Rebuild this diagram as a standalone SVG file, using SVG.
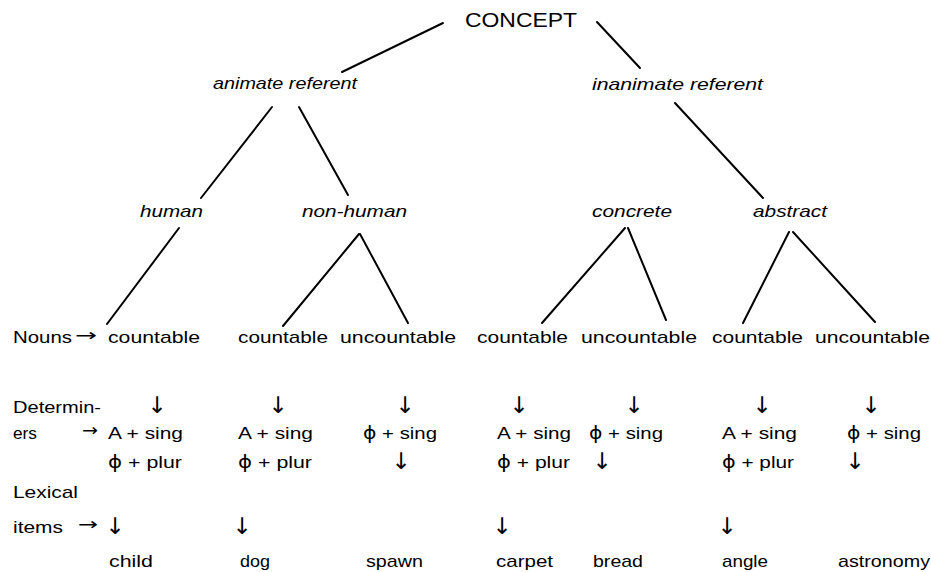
<svg xmlns="http://www.w3.org/2000/svg" width="931" height="572" viewBox="0 0 931 572">
<style>
text{font-family:"Liberation Sans",Arial,sans-serif;font-size:17px;fill:#000}
.it{font-style:italic}
.big{font-size:21px}
.ar{text-anchor:middle;font-family:"DejaVu Sans",sans-serif;font-size:23px}
.sy{font-family:"DejaVu Sans",sans-serif}
.ln line{stroke:#000;stroke-width:2;stroke-linecap:round}
</style>
<rect width="931" height="572" fill="#fff"/>
<g id="connectors" class="ln">
<line x1="443" y1="23" x2="342" y2="72"/>
<line x1="597" y1="22" x2="640" y2="68"/>
<line x1="272" y1="107" x2="201" y2="198"/>
<line x1="299" y1="107" x2="348" y2="195"/>
<line x1="675" y1="103" x2="763" y2="198"/>
<line x1="179" y1="228" x2="107" y2="324"/>
<line x1="359" y1="234" x2="283" y2="326"/>
<line x1="360" y1="234" x2="408" y2="323"/>
<line x1="625" y1="228" x2="542" y2="323"/>
<line x1="628" y1="228" x2="666" y2="320"/>
<line x1="789" y1="232" x2="743" y2="323"/>
<line x1="793" y1="232" x2="875" y2="322"/>
</g>
<g id="concept"><text class="big" x="465" y="27" textLength="112" lengthAdjust="spacingAndGlyphs">CONCEPT</text></g>
<g id="animate"><text class="it" x="213" y="89" textLength="144" lengthAdjust="spacingAndGlyphs">animate referent</text></g>
<g id="inanimate"><text class="it" x="592" y="90" textLength="171" lengthAdjust="spacingAndGlyphs">inanimate referent</text></g>
<g id="human"><text class="it" x="140" y="217" textLength="63" lengthAdjust="spacingAndGlyphs">human</text></g>
<g id="nonhuman"><text class="it" x="302" y="217" textLength="105" lengthAdjust="spacingAndGlyphs">non-human</text></g>
<g id="concrete"><text class="it" x="592" y="217" textLength="80" lengthAdjust="spacingAndGlyphs">concrete</text></g>
<g id="abstract"><text class="it" x="753" y="217" textLength="74" lengthAdjust="spacingAndGlyphs">abstract</text></g>
<g id="labels">
<text x="13" y="343" textLength="59" lengthAdjust="spacingAndGlyphs">Nouns</text>
<text class="sy" x="75" y="341" textLength="22" lengthAdjust="spacingAndGlyphs">→</text>
<text x="13" y="413" textLength="88" lengthAdjust="spacingAndGlyphs">Determin-</text>
<text x="13" y="439" textLength="24" lengthAdjust="spacingAndGlyphs">ers</text>
<text class="sy" x="82" y="436" textLength="16" lengthAdjust="spacingAndGlyphs">→</text>
<text x="13" y="498" textLength="65" lengthAdjust="spacingAndGlyphs">Lexical</text>
<text x="13" y="533" textLength="50" lengthAdjust="spacingAndGlyphs">items</text>
<text class="sy" x="78" y="530" textLength="20" lengthAdjust="spacingAndGlyphs">→</text>
</g>
<g id="col1">
<text x="108" y="343" textLength="92" lengthAdjust="spacingAndGlyphs">countable</text>
<text class="ar" x="157" y="413">↓</text>
<text x="108" y="439" textLength="75" lengthAdjust="spacingAndGlyphs">A + sing</text>
<text x="108" y="468" textLength="74" lengthAdjust="spacingAndGlyphs"><tspan class="sy">ϕ</tspan> + plur</text>
<text class="ar" x="115" y="534">↓</text>
<text x="109" y="567" textLength="44" lengthAdjust="spacingAndGlyphs">child</text>
</g>
<g id="col2">
<text x="238" y="343" textLength="90" lengthAdjust="spacingAndGlyphs">countable</text>
<text class="ar" x="278" y="413">↓</text>
<text x="238" y="439" textLength="75" lengthAdjust="spacingAndGlyphs">A + sing</text>
<text x="238" y="468" textLength="74" lengthAdjust="spacingAndGlyphs"><tspan class="sy">ϕ</tspan> + plur</text>
<text class="ar" x="242" y="534">↓</text>
<text x="240" y="567" textLength="30" lengthAdjust="spacingAndGlyphs">dog</text>
</g>
<g id="col3">
<text x="340" y="343" textLength="116" lengthAdjust="spacingAndGlyphs">uncountable</text>
<text class="ar" x="405" y="413">↓</text>
<text x="363" y="439" textLength="74" lengthAdjust="spacingAndGlyphs"><tspan class="sy">ϕ</tspan> + sing</text>
<text class="ar" x="401" y="469">↓</text>
<text x="366" y="567" textLength="57" lengthAdjust="spacingAndGlyphs">spawn</text>
</g>
<g id="col4">
<text x="477" y="343" textLength="91" lengthAdjust="spacingAndGlyphs">countable</text>
<text class="ar" x="519" y="413">↓</text>
<text x="497" y="439" textLength="74" lengthAdjust="spacingAndGlyphs">A + sing</text>
<text x="497" y="468" textLength="73" lengthAdjust="spacingAndGlyphs"><tspan class="sy">ϕ</tspan> + plur</text>
<text class="ar" x="502" y="534">↓</text>
<text x="496" y="567" textLength="57" lengthAdjust="spacingAndGlyphs">carpet</text>
</g>
<g id="col5">
<text x="581" y="343" textLength="116" lengthAdjust="spacingAndGlyphs">uncountable</text>
<text class="ar" x="634" y="413">↓</text>
<text x="589" y="439" textLength="74" lengthAdjust="spacingAndGlyphs"><tspan class="sy">ϕ</tspan> + sing</text>
<text class="ar" x="602" y="469">↓</text>
<text x="593" y="567" textLength="50" lengthAdjust="spacingAndGlyphs">bread</text>
</g>
<g id="col6">
<text x="712" y="343" textLength="91" lengthAdjust="spacingAndGlyphs">countable</text>
<text class="ar" x="762" y="413">↓</text>
<text x="722" y="439" textLength="75" lengthAdjust="spacingAndGlyphs">A + sing</text>
<text x="722" y="468" textLength="72" lengthAdjust="spacingAndGlyphs"><tspan class="sy">ϕ</tspan> + plur</text>
<text class="ar" x="727" y="534">↓</text>
<text x="722" y="567" textLength="46" lengthAdjust="spacingAndGlyphs">angle</text>
</g>
<g id="col7">
<text x="815" y="343" textLength="115" lengthAdjust="spacingAndGlyphs">uncountable</text>
<text class="ar" x="871" y="413">↓</text>
<text x="847" y="439" textLength="74" lengthAdjust="spacingAndGlyphs"><tspan class="sy">ϕ</tspan> + sing</text>
<text class="ar" x="855" y="469">↓</text>
<text x="838" y="567" textLength="92" lengthAdjust="spacingAndGlyphs">astronomy</text>
</g>
</svg>
